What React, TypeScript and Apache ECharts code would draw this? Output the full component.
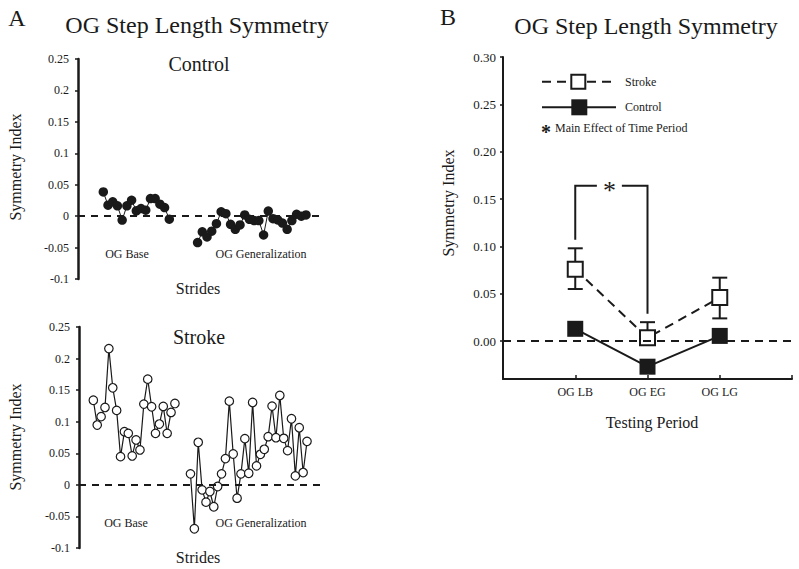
import React, { useEffect, useRef } from "react";
import * as echarts from "echarts";

// ---------- data ----------
const controlBase = [0.0385, 0.0174, 0.0227, 0.0164, -0.0063, 0.0164, 0.0253, 0.0084, 0.0121, 0.0095, 0.028, 0.028, 0.019, 0.0137, -0.0048];
const controlGen = [-0.042, -0.025, -0.033, -0.024, -0.012, 0.007, 0.004, -0.013, -0.021, -0.014, 0.002, -0.005, -0.007, -0.007, -0.03, 0.008, -0.004, -0.006, -0.011, -0.021, -0.007, 0.003, 0.0, 0.002];
const controlGenStart = 20;

const strokeBase = [0.134, 0.0947, 0.108, 0.1226, 0.2158, 0.1537, 0.1179, 0.0447, 0.0842, 0.0816, 0.0458, 0.0711, 0.0553, 0.1279, 0.1674, 0.1237, 0.0816, 0.0963, 0.1242, 0.0816, 0.1147, 0.1289];
const strokeGen = [0.0174, -0.0695, 0.0674, -0.0079, -0.0274, -0.0105, -0.0347, -0.0026, 0.0174, 0.0416, 0.1326, 0.0489, -0.0211, 0.0174, 0.0732, 0.0184, 0.1305, 0.03, 0.0484, 0.0563, 0.0763, 0.1247, 0.0747, 0.1416, 0.0737, 0.0542, 0.1047, 0.0142, 0.0905, 0.0195, 0.0689];
const strokeGenStart = 25;

const leftTicks = { min: -0.1, max: 0.25, interval: 0.05 };

const periods = ["OG LB", "OG EG", "OG LG"];
const strokeMean = [0.076, 0.0035, 0.046];
const strokeLow = [0.055, 0.0035, 0.024];
const strokeHigh = [0.098, 0.02, 0.067];
const controlMean = [0.013, -0.027, 0.0055];

const bracketX = [1, 2];
const bracketBottoms = [0.107, 0.029];
const bracketTop = 0.164;

// ---------- styles ----------
const FONT = "'Liberation Serif', 'Times New Roman', serif";
const INK = "#1a1a1a";

const toPairs = (vals: number[], start: number) => vals.map((v, i) => [start + i, v]);

function zeroLine() {
  return {
    silent: true,
    symbol: ["none", "none"],
    label: { show: false },
    lineStyle: { type: [7, 6], width: 2, color: INK },
    data: [{ yAxis: 0 }],
  };
}

export default function App() {
  const ref = useRef<HTMLDivElement>(null);

  useEffect(() => {
    if (!ref.current) return;
    const chart = echarts.init(ref.current, undefined, { renderer: "svg" });

    const leftY = (gridIndex: number) => ({
      type: "value",
      gridIndex,
      min: leftTicks.min,
      max: leftTicks.max,
      interval: leftTicks.interval,
      splitLine: { show: false },
      axisLine: { show: true, onZero: false, lineStyle: { color: INK, width: 2.5 } },
      axisTick: { show: true, inside: false, length: 3, lineStyle: { color: INK, width: 1.5 } },
      axisLabel: { color: INK, fontFamily: FONT, fontSize: 12, margin: 9 },
    });

    const text = (t: string, x: number, y: number, size: number, extra: any = {}) => ({
      type: "text",
      x,
      y,
      style: { text: t, fill: INK, fontFamily: FONT, fontSize: size, align: "center", verticalAlign: "middle" },
      ...extra,
    });

    const option: any = {
      animation: false,
      backgroundColor: "#fff",
      grid: [
        { left: 78, top: 59, width: 242, height: 220 },
        { left: 79, top: 327, width: 242, height: 221 },
        { left: 503, top: 57, width: 289, height: 322 },
      ],
      xAxis: [
        { type: "value", gridIndex: 0, min: -5.37, max: 45.97, show: false },
        { type: "value", gridIndex: 1, min: -3.69, max: 58.6, show: false },
        {
          type: "value",
          gridIndex: 2,
          min: 0,
          max: 4,
          interval: 1,
          splitLine: { show: false },
          axisLine: { show: true, onZero: false, lineStyle: { color: INK, width: 2 } },
          axisTick: { show: true, inside: true, length: 4, lineStyle: { color: INK, width: 1.5 } },
          axisLabel: {
            color: INK,
            fontFamily: FONT,
            fontSize: 12,
            margin: 7,
            formatter: (v: number) => (v >= 1 && v <= periods.length ? periods[v - 1] : ""),
          },
        },
      ],
      yAxis: [
        leftY(0),
        leftY(1),
        {
          type: "value",
          gridIndex: 2,
          min: -0.04,
          max: 0.3,
          splitNumber: 7,
          splitLine: { show: false },
          axisLine: { show: true, onZero: false, lineStyle: { color: INK, width: 2 } },
          axisTick: { show: true, inside: false, length: 3, lineStyle: { color: INK, width: 1.5 } },
          axisLabel: {
            color: INK,
            fontFamily: FONT,
            fontSize: 13,
            margin: 7,
            showMinLabel: false,
            formatter: (v: number) => (v < -0.001 ? "" : v.toFixed(2)),
          },
        },
      ],
      series: [
        {
          type: "line",
          xAxisIndex: 0,
          yAxisIndex: 0,
          data: toPairs(controlBase, 0),
          symbol: "circle",
          symbolSize: 9.5,
          itemStyle: { color: INK },
          lineStyle: { color: INK, width: 1 },
          markLine: zeroLine(),
        },
        {
          type: "line",
          xAxisIndex: 0,
          yAxisIndex: 0,
          data: toPairs(controlGen, controlGenStart),
          symbol: "circle",
          symbolSize: 9.5,
          itemStyle: { color: INK },
          lineStyle: { color: INK, width: 1 },
        },
        {
          type: "line",
          xAxisIndex: 1,
          yAxisIndex: 1,
          data: toPairs(strokeBase, 0),
          symbol: "circle",
          symbolSize: 8.5,
          itemStyle: { color: "#fff", borderColor: INK, borderWidth: 1.2 },
          lineStyle: { color: INK, width: 1.2 },
          markLine: zeroLine(),
        },
        {
          type: "line",
          xAxisIndex: 1,
          yAxisIndex: 1,
          data: toPairs(strokeGen, strokeGenStart),
          symbol: "circle",
          symbolSize: 8.5,
          itemStyle: { color: "#fff", borderColor: INK, borderWidth: 1.2 },
          lineStyle: { color: INK, width: 1.2 },
        },
        // error bars (stroke)
        {
          type: "custom",
          xAxisIndex: 2,
          yAxisIndex: 2,
          z: 1,
          silent: true,
          data: strokeMean.map((m, i) => [i + 1, m, strokeLow[i], strokeHigh[i]]),
          renderItem: (params: any, api: any) => {
            const x = api.value(0);
            const mean = api.value(1);
            const lo = api.value(2);
            const hi = api.value(3);
            const pHi = api.coord([x, hi]);
            const pLo = api.coord([x, lo]);
            const cap = 7.5;
            const st = { stroke: INK, lineWidth: 2 };
            const children: any[] = [
              { type: "line", shape: { x1: pHi[0], y1: pHi[1], x2: pLo[0], y2: pLo[1] }, style: st },
              { type: "line", shape: { x1: pHi[0] - cap, y1: pHi[1], x2: pHi[0] + cap, y2: pHi[1] }, style: st },
            ];
            if (lo < mean - 1e-6) {
              children.push({ type: "line", shape: { x1: pLo[0] - cap, y1: pLo[1], x2: pLo[0] + cap, y2: pLo[1] }, style: st });
            }
            return { type: "group", children };
          },
        },
        {
          type: "line",
          xAxisIndex: 2,
          yAxisIndex: 2,
          z: 3,
          data: strokeMean.map((m, i) => [i + 1, m]),
          symbol: "rect",
          symbolSize: 15,
          itemStyle: { color: "#fff", borderColor: INK, borderWidth: 2 },
          lineStyle: { color: INK, width: 2, type: [9, 6] },
          markLine: { ...zeroLine(), lineStyle: { type: [8, 6], width: 2, color: INK } },
        },
        {
          type: "line",
          xAxisIndex: 2,
          yAxisIndex: 2,
          z: 3,
          data: controlMean.map((m, i) => [i + 1, m]),
          symbol: "rect",
          symbolSize: 16,
          itemStyle: { color: INK },
          lineStyle: { color: INK, width: 2 },
        },
        // significance bracket
        {
          type: "custom",
          xAxisIndex: 2,
          yAxisIndex: 2,
          z: 2,
          silent: true,
          data: [[bracketX[0], bracketBottoms[0], bracketX[1], bracketBottoms[1], bracketTop]],
          renderItem: (params: any, api: any) => {
            const a = api.coord([api.value(0), api.value(1)]);
            const aTop = api.coord([api.value(0), api.value(4)]);
            const b = api.coord([api.value(2), api.value(3)]);
            const bTop = api.coord([api.value(2), api.value(4)]);
            const mid = (aTop[0] + bTop[0]) / 2 - 2;
            const gap = 12.5;
            const st = { stroke: INK, lineWidth: 2, fill: "none" };
            return {
              type: "group",
              children: [
                { type: "polyline", shape: { points: [a, aTop, [mid - gap, aTop[1]]] }, style: st },
                { type: "polyline", shape: { points: [[mid + gap, bTop[1]], bTop, b] }, style: st },
                {
                  type: "text",
                  x: mid,
                  y: aTop[1] + 5,
                  style: { text: "*", fill: INK, fontFamily: FONT, fontSize: 26, align: "center", verticalAlign: "middle" },
                },
              ],
            };
          },
        },
      ],
      graphic: [
        text("A", 17, 18, 24),
        text("OG Step Length Symmetry", 197, 25, 24),
        text("Control", 199, 64, 20),
        text("Stroke", 199, 337, 20),
        text("Symmetry Index", 15, 167, 16, { rotation: Math.PI / 2 }),
        text("Symmetry Index", 15, 437, 16, { rotation: Math.PI / 2 }),
        text("Strides", 198, 288, 16),
        text("Strides", 198, 557, 16),
        text("OG Base", 127, 254, 12),
        text("OG Generalization", 261, 254, 12),
        text("OG Base", 126, 523, 12),
        text("OG Generalization", 261, 523, 12),
        text("B", 448, 17, 24),
        text("OG Step Length Symmetry", 646, 26, 24),
        text("Symmetry Index", 448, 203, 16, { rotation: Math.PI / 2 }),
        text("Testing Period", 652, 422, 16),
        // legend
        { type: "line", shape: { x1: 542, y1: 81.7, x2: 616, y2: 81.7 }, style: { stroke: INK, lineWidth: 2, lineDash: [9, 6] } },
        { type: "rect", shape: { x: 571.3, y: 74.7, width: 14, height: 14 }, style: { fill: "#fff", stroke: INK, lineWidth: 2 } },
        { type: "line", shape: { x1: 542, y1: 107.3, x2: 616, y2: 107.3 }, style: { stroke: INK, lineWidth: 2 } },
        { type: "rect", shape: { x: 571.3, y: 99.3, width: 16, height: 16 }, style: { fill: INK } },
        { type: "text", x: 625, y: 81.7, style: { text: "Stroke", fill: INK, fontFamily: FONT, fontSize: 12, align: "left", verticalAlign: "middle" } },
        { type: "text", x: 625, y: 107.3, style: { text: "Control", fill: INK, fontFamily: FONT, fontSize: 12, align: "left", verticalAlign: "middle" } },
        { type: "text", x: 546, y: 132, style: { text: "*", fill: INK, fontFamily: FONT, fontSize: 20, fontWeight: "bold", align: "center", verticalAlign: "middle" } },
        { type: "text", x: 555, y: 128.3, style: { text: "Main Effect of Time Period", fill: INK, fontFamily: FONT, fontSize: 12, align: "left", verticalAlign: "middle" } },
      ],
    };

    chart.setOption(option);
    return () => chart.dispose();
  }, []);

  return <div ref={ref} style={{ position: "absolute", left: 0, top: 0, width: 799, height: 569 }} />;
}
